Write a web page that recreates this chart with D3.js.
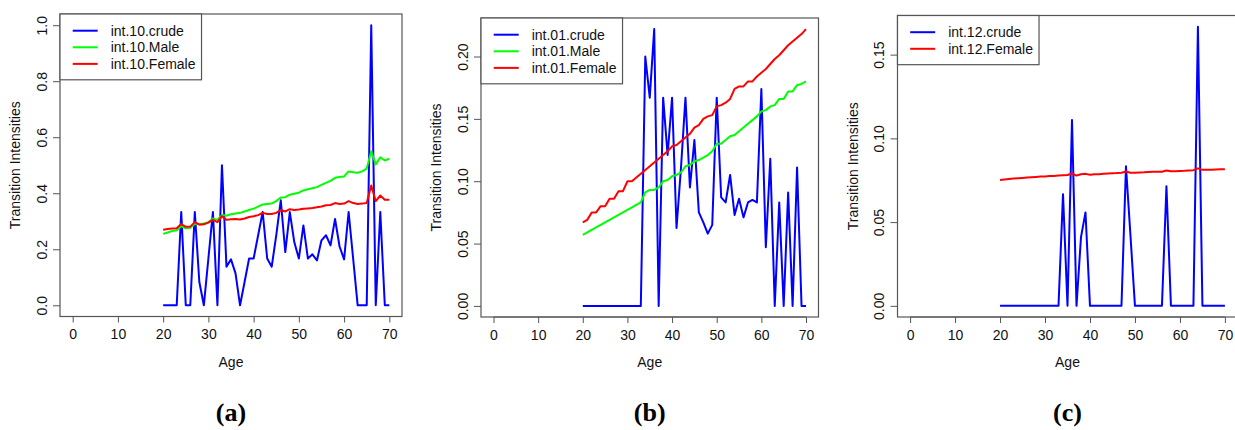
<!DOCTYPE html>
<html>
<head>
<meta charset="utf-8">
<script src="https://cdn.jsdelivr.net/npm/d3@7"></script>
<style>
  body { margin: 0; background: #fff; }
  svg { display: block; font-family: 'Liberation Sans', Arial, sans-serif; }
</style>
</head>
<body>
<svg id="chart" width="1235" height="430"></svg>
<script>
// ages on the x axis (same for every panel)
var ages = [20, 21, 22, 23, 24, 25, 26, 27, 28, 29, 30, 31, 32, 33, 34, 35, 36, 37, 38, 39, 40,
  41, 42, 43, 44, 45, 46, 47, 48, 49, 50, 51, 52, 53, 54, 55, 56, 57, 58, 59, 60,
  61, 62, 63, 64, 65, 66, 67, 68, 69, 70]
var xTicks = [0, 10, 20, 30, 40, 50, 60, 70]

// panel (a) : transition 1 -> 0
var int10crude = [0, 0, 0, 0, 0.333, 0, 0, 0.333, 0.083, 0, 0.167, 0.333, 0, 0.5, 0.138, 0.164, 0.114, 0, 0.083, 0.167, 0.167,
  0.25, 0.333, 0.167, 0.138, 0.25, 0.375, 0.19, 0.333, 0.225, 0.167, 0.285, 0.167, 0.182, 0.16, 0.232, 0.25, 0.214, 0.308, 0.21, 0.164,
  0.333, 0.167, 0, 0, 0, 1.0, 0, 0.333, 0, 0]
var int10male = [0.255, 0.26, 0.265, 0.268, 0.282, 0.275, 0.277, 0.29, 0.29, 0.292, 0.297, 0.31, 0.305, 0.322, 0.32, 0.325, 0.328, 0.33, 0.335, 0.34, 0.345,
  0.352, 0.36, 0.362, 0.363, 0.372, 0.385, 0.386, 0.395, 0.398, 0.402, 0.41, 0.414, 0.418, 0.422, 0.43, 0.437, 0.444, 0.455, 0.458, 0.46,
  0.478, 0.475, 0.473, 0.478, 0.488, 0.55, 0.503, 0.528, 0.517, 0.523]
var int10female = [0.27, 0.272, 0.274, 0.275, 0.29, 0.28, 0.281, 0.297, 0.288, 0.289, 0.295, 0.305, 0.297, 0.318, 0.305, 0.307, 0.308, 0.306, 0.31, 0.315, 0.318,
  0.322, 0.33, 0.326, 0.326, 0.33, 0.34, 0.335, 0.343, 0.34, 0.342, 0.345, 0.346, 0.347, 0.35, 0.353, 0.357, 0.358, 0.365, 0.362, 0.363,
  0.372, 0.365, 0.362, 0.363, 0.365, 0.428, 0.372, 0.392, 0.377, 0.377]
var ticksA = [0, 0.2, 0.4, 0.6, 0.8, 1.0]

// panel (b) : transition 0 -> 1
var int01crude = [0, 0, 0, 0, 0, 0, 0, 0, 0, 0, 0, 0, 0, 0, 0.2, 0.167, 0.222, 0, 0.167, 0.121, 0.167,
  0.0625, 0.111, 0.167, 0.095, 0.133, 0.075, 0.067, 0.058, 0.065, 0.167, 0.087, 0.083, 0.105, 0.073, 0.086, 0.071, 0.083, 0.085, 0.083, 0.174,
  0.047, 0.118, 0, 0.083, 0, 0.091, 0, 0.111, 0, 0]
var int01male = [0.057, 0.059, 0.061, 0.063, 0.065, 0.067, 0.069, 0.071, 0.073, 0.075, 0.077, 0.079, 0.081, 0.083, 0.091, 0.093, 0.093, 0.095, 0.1, 0.101, 0.104,
  0.105, 0.107, 0.112, 0.113, 0.116, 0.117, 0.119, 0.121, 0.124, 0.13, 0.13, 0.133, 0.136, 0.137, 0.14, 0.143, 0.146, 0.149, 0.152, 0.156,
  0.157, 0.16, 0.161, 0.166, 0.166, 0.172, 0.172, 0.177, 0.178, 0.18]
var int01female = [0.067, 0.069, 0.075, 0.075, 0.08, 0.08, 0.086, 0.086, 0.092, 0.092, 0.1, 0.1, 0.103, 0.106, 0.109, 0.112, 0.115, 0.118, 0.121, 0.124, 0.128,
  0.129, 0.132, 0.135, 0.138, 0.143, 0.145, 0.15, 0.152, 0.153, 0.16, 0.161, 0.163, 0.166, 0.174, 0.176, 0.176, 0.18, 0.18, 0.184, 0.187,
  0.19, 0.194, 0.198, 0.201, 0.205, 0.209, 0.212, 0.215, 0.218, 0.222]
var ticksB = [0, 0.05, 0.1, 0.15, 0.2]

// panel (c) : transition 1 -> 2
var int12crude = [0, 0, 0, 0, 0, 0, 0, 0, 0, 0, 0, 0, 0, 0, 0.0667, 0, 0.111, 0, 0.041, 0.0558, 0,
  0, 0, 0, 0, 0, 0, 0, 0.0833, 0.042, 0, 0, 0, 0, 0, 0, 0, 0.0714, 0, 0, 0,
  0, 0, 0, 0.1667, 0, 0, 0, 0, 0, 0]
var int12female = [0.0751, 0.0754, 0.0757, 0.076, 0.0762, 0.0764, 0.0766, 0.0768, 0.077, 0.0772, 0.0773, 0.0775, 0.0776, 0.0778, 0.078, 0.0781, 0.079, 0.0778, 0.0786, 0.0788, 0.0783,
  0.0785, 0.0786, 0.0788, 0.079, 0.0792, 0.0793, 0.0795, 0.0802, 0.0795, 0.0795, 0.0796, 0.0797, 0.0799, 0.08, 0.08, 0.0801, 0.0808, 0.0803, 0.0804, 0.0805,
  0.0806, 0.0808, 0.081, 0.0821, 0.0812, 0.0812, 0.0813, 0.0814, 0.0815, 0.0816]
var ticksC = [0, 0.05, 0.1, 0.15]

var svg = d3.select('#chart')

function drawPanel(p) {
  var g = svg.append('g')

  // R style: 4% padding on both axes
  var x = d3.scaleLinear().domain([0 - 2.8, 70 + 2.8]).range([p.left, p.right])
  var ymax = d3.max(p.series, (s) => d3.max(s.values))
  var y = d3
    .scaleLinear()
    .domain([-0.04 * ymax, ymax * 1.04])
    .range([p.bottom, p.top])

  // x axis
  var xaxis = d3.axisBottom(x).tickValues(xTicks).tickSize(6).tickPadding(7).tickFormat(d3.format('d'))
  var gx = g.append('g').attr('transform', 'translate(0,' + p.bottom + ')').call(xaxis)
  gx.select('.domain').attr('stroke', '#555').attr('d', 'M' + x(0) + ',0H' + x(70))
  gx.selectAll('.tick line').attr('stroke', '#555')
  gx.selectAll('.tick text').attr('font-size', 14).attr('fill', '#111')

  // y axis, labels parallel to the axis
  var yaxis = d3.axisLeft(y).tickValues(p.ticks).tickSize(7).tickFormat(d3.format(p.fmt))
  var gy = g.append('g').attr('transform', 'translate(' + p.left + ',0)').call(yaxis)
  gy.select('.domain').remove()
  gy.selectAll('.tick line').attr('stroke', '#555')
  gy.selectAll('.tick text')
    .attr('font-size', 14)
    .attr('fill', '#111')
    .attr('x', null)
    .attr('dy', null)
    .attr('text-anchor', 'middle')
    .attr('transform', 'translate(-13.5,0) rotate(-90)')

  // plot box
  g.append('rect')
    .attr('x', p.left)
    .attr('y', p.top)
    .attr('width', p.right - p.left)
    .attr('height', p.bottom - p.top)
    .attr('fill', 'none')
    .attr('stroke', '#555')
    .attr('stroke-width', 1.2)

  var line = d3
    .line()
    .x((d, i) => x(ages[i]))
    .y((d) => y(d))

  // draw last series first so crude stays on top, like R overplotting order reversed
  p.series.forEach(function (s) {
    g.append('path')
      .datum(s.values)
      .attr('d', line)
      .attr('fill', 'none')
      .attr('stroke', s.color)
      .attr('stroke-width', 2)
      .attr('stroke-linejoin', 'round')
  })

  // axis titles
  g.append('text')
    .attr('x', (p.left + p.right) / 2)
    .attr('y', p.bottom + 50)
    .attr('text-anchor', 'middle')
    .attr('font-size', 14)
    .attr('fill', '#111')
    .text('Age')

  g.append('text')
    .attr('transform', 'translate(' + (p.left - 40) + ',' + (p.top + p.bottom) / 2 + ') rotate(-90)')
    .attr('text-anchor', 'middle')
    .attr('font-size', 14)
    .attr('fill', '#111')
    .text('Transition Intensities')

  // legend
  var leg = g.append('g')
  var legBox = leg.append('rect')
    .attr('x', p.left)
    .attr('y', p.top)
    .attr('height', p.series.length * 16.6 + 16)
    .attr('fill', '#fff')
    .attr('stroke', '#555')
    .attr('stroke-width', 1.2)
  var maxW = 0
  p.series.forEach(function (s, i) {
    var ly = p.top + 16.7 + i * 16.6
    leg.append('line')
      .attr('x1', p.left + 12.7)
      .attr('x2', p.left + 37.7)
      .attr('y1', ly)
      .attr('y2', ly)
      .attr('stroke', s.color)
      .attr('stroke-width', 2)
    var t = leg.append('text')
      .attr('x', p.left + 50.7)
      .attr('y', ly + 5)
      .attr('font-size', 14)
      .attr('fill', '#111')
      .text(s.name)
    maxW = Math.max(maxW, t.node().getComputedTextLength())
  })
  legBox.attr('width', 50.7 + maxW + 6)

  // panel letter
  g.append('text')
    .attr('x', (p.left + p.right) / 2)
    .attr('y', 421)
    .attr('text-anchor', 'middle')
    .attr('font-family', "'Liberation Serif', 'Times New Roman', serif")
    .attr('font-weight', 'bold')
    .attr('font-size', 26)
    .attr('fill', '#000')
    .text(p.letter)
}

drawPanel({
  left: 60, right: 402, top: 14, bottom: 316.5,
  ticks: ticksA, fmt: '.1f', letter: '(a)',
  series: [
    { name: 'int.10.crude', values: int10crude, color: '#0000ff' },
    { name: 'int.10.Male', values: int10male, color: '#00ff00' },
    { name: 'int.10.Female', values: int10female, color: '#ff0000' },
  ],
})

drawPanel({
  left: 481, right: 818.5, top: 18, bottom: 317,
  ticks: ticksB, fmt: '.2f', letter: '(b)',
  series: [
    { name: 'int.01.crude', values: int01crude, color: '#0000ff' },
    { name: 'int.01.Male', values: int01male, color: '#00ff00' },
    { name: 'int.01.Female', values: int01female, color: '#ff0000' },
  ],
})

drawPanel({
  left: 897.5, right: 1237.5, top: 15.5, bottom: 317,
  ticks: ticksC, fmt: '.2f', letter: '(c)',
  series: [
    { name: 'int.12.crude', values: int12crude, color: '#0000ff' },
    { name: 'int.12.Female', values: int12female, color: '#ff0000' },
  ],
})
</script>
</body>
</html>
